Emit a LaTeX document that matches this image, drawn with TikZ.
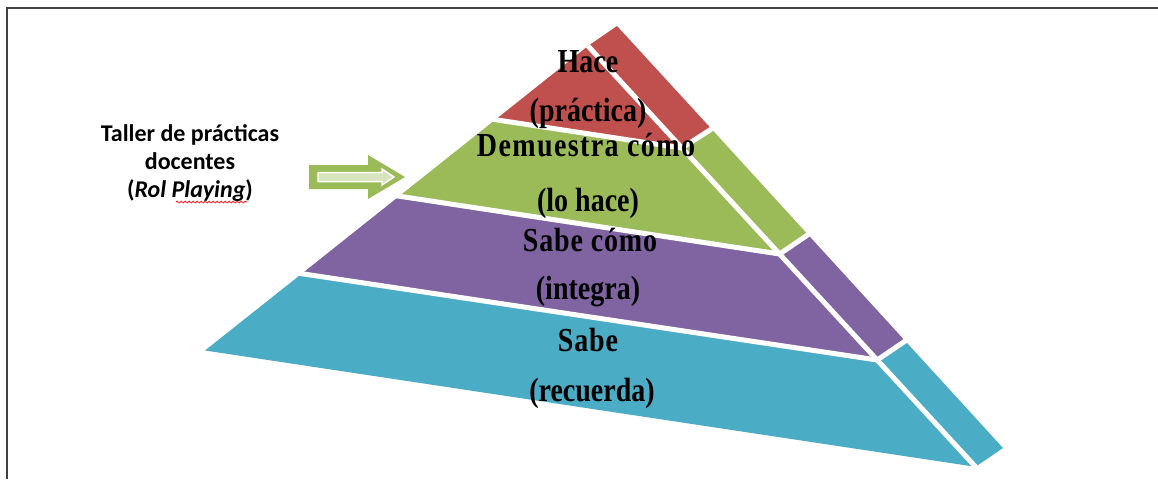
\documentclass[tikz,border=0pt]{standalone}
\usepackage{fontspec}
\setmainfont{Liberation Serif}
\newfontfamily\calib{Carlito}
\usetikzlibrary{decorations.pathmorphing}
\definecolor{cred}{HTML}{C0504D}
\definecolor{cgreen}{HTML}{9BBB59}
\definecolor{cpurple}{HTML}{8064A2}
\definecolor{ccyan}{HTML}{4BACC6}
\definecolor{lgreen}{HTML}{D7E4BD}
\begin{document}
\begin{tikzpicture}[x=1pt,y=-1pt,
  gap/.style={draw=white,line width=5pt,line join=round,shorten <=-4pt,shorten >=-4pt},
  pyr/.style={font=\fontsize{28}{28}\selectfont\bfseries,inner sep=0pt,anchor=base,yscale=1.2},
  lefttext/.style={font=\fontsize{24}{28}\selectfont\calib\bfseries,inner sep=0pt,anchor=base},
  frame/.style={line width=2pt,draw=black!75}]
\useasboundingbox (0,0) rectangle (1158,479);
% frame
\draw[frame] (7,479) -- (7,8) -- (1158,8);
% key points
\coordinate (F) at (588,46);
\coordinate (T) at (617,26);
\coordinate (L1) at (495.4,119.7);
\coordinate (R1) at (681.9,148);
\coordinate (S1) at (711.5,129);
\coordinate (L2) at (399.2,196.2);
\coordinate (R2) at (779.6,254);
\coordinate (S2) at (808,234.7);
\coordinate (L3) at (301.8,273.7);
\coordinate (R3) at (877.2,360);
\coordinate (S3) at (905.2,341);
\coordinate (L4) at (205,350.5);
\coordinate (R4) at (975.5,466.8);
\coordinate (S4) at (1003,448);
% layers
\fill[cred] (F) -- (T) -- (S1) -- (R1) -- (L1) -- cycle;
\fill[cgreen] (L1) -- (R1) -- (S1) -- (S2) -- (R2) -- (L2) -- cycle;
\fill[cpurple] (L2) -- (R2) -- (S2) -- (S3) -- (R3) -- (L3) -- cycle;
\fill[ccyan] (L3) -- (R3) -- (S3) -- (S4) -- (R4) -- (L4) -- cycle;
% white gaps
\draw[gap,shorten <=0pt] (F) -- (R4);
\draw[gap] (L1) -- (R1) -- (S1);
\draw[gap] (L2) -- (R2) -- (S2);
\draw[gap] (L3) -- (R3) -- (S3);
% pyramid texts
\path (588,72) node[pyr] (h1) {Hace};
\path (588,121) node[pyr] (h2) {(práctica)};
\path (586,156) node[pyr] (d1) {\addfontfeatures{LetterSpace=5}Demuestra cómo};
\path (588,211) node[pyr] (d2) {(lo hace)};
\path (590,251) node[pyr] (s1) {\addfontfeatures{LetterSpace=3}Sabe cómo};
\path (588,299) node[pyr] (s2) {(integra)};
\path (588,351) node[pyr] (r1) {\addfontfeatures{LetterSpace=3}Sabe};
\path (592,401) node[pyr] (r2) {(recuerda)};
% left text
\path (190,141) node[lefttext] (l1) {Taller de prácticas};
\path (190,169) node[lefttext] (l2) {docentes};
\path (190,197) node[lefttext] (l3) {(\textit{Rol Playing})};
\draw[red,line width=0.7pt,decorate,decoration={snake,amplitude=1pt,segment length=4pt}] (176,202) -- (247,202);
% block arrow
\fill[cgreen] (309,165) -- (368,165) -- (368,155) -- (405,177) -- (368,199) -- (368,189) -- (309,189) -- cycle;
\filldraw[fill=lgreen,draw=white,line width=1.5pt] (318,172.5) -- (382,172.5) -- (382,169) -- (394,177) -- (382,185) -- (382,181.5) -- (318,181.5) -- cycle;
\end{tikzpicture}
\end{document}
